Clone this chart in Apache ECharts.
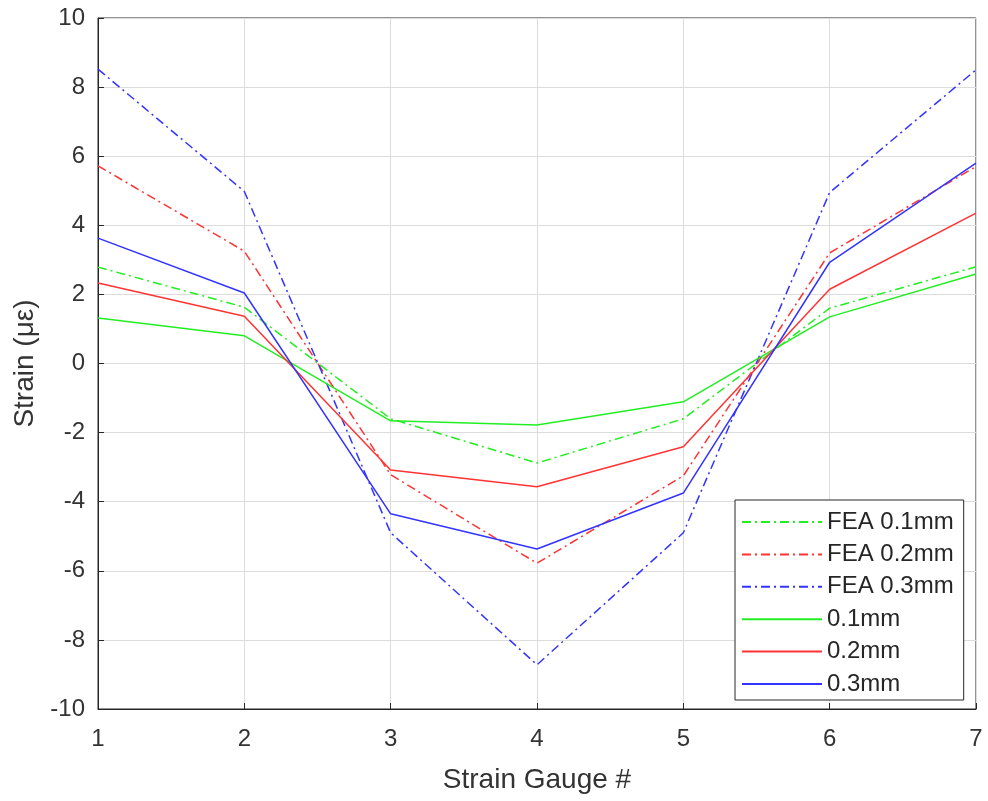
<!DOCTYPE html>
<html><head><meta charset="utf-8">
<script src="https://cdn.jsdelivr.net/npm/echarts@6/dist/echarts.min.js"></script>
<style>html,body{margin:0;padding:0;background:#fff}#c{width:988px;height:801px}</style>
</head><body><div id="c"></div>
<script>
const gauges = [1,2,3,4,5,6,7];
const fea01 = [2.79, 1.63, -1.6, -2.88, -1.6, 1.6, 2.8];
const fea02 = [5.72, 3.25, -3.22, -5.78, -3.25, 3.2, 5.7];
const fea03 = [8.52, 4.98, -4.9, -8.72, -4.9, 4.95, 8.5];
const m01 = [1.32, 0.8, -1.66, -1.78, -1.11, 1.35, 2.59];
const m02 = [2.33, 1.37, -3.08, -3.57, -2.41, 2.15, 4.35];
const m03 = [3.63, 2.04, -4.35, -5.37, -3.75, 2.93, 5.8];
const names = ['FEA 0.1mm','FEA 0.2mm','FEA 0.3mm','0.1mm','0.2mm','0.3mm'];
const green = '#22ee22', red = '#ff3333', blue = '#3333ff';
const dashdot = [9,4,2,4];
function mk(name, vals, color, dashed){
  return {name, type:'line', data: gauges.map((g,i)=>[g, vals[i]]), symbol:'none', showSymbol:false,
    lineStyle:{color, width:1.5, type: dashed ? dashdot : 'solid'}, itemStyle:{color}, z: dashed?2:3, animation:false};
}
const chart = echarts.init(document.getElementById('c'));
chart.setOption({
  animation:false,
  textStyle:{fontFamily:'Liberation Sans, Arial, sans-serif'},
  grid:{left:98, right:12, top:18, bottom:92, show:true, borderColor:'#262626', borderWidth:1},
  xAxis:{type:'value', min:1, max:7, interval:1,
    name:'Strain Gauge #', nameLocation:'middle', nameGap:57, nameTextStyle:{fontSize:28, color:'#333'},
    axisLine:{show:true, onZero:false, lineStyle:{color:'#262626'}},
    axisTick:{show:true, inside:true, length:6, lineStyle:{color:'#262626'}},
    axisLabel:{fontSize:24, color:'#333', margin:18},
    splitLine:{show:true, lineStyle:{color:'#dcdcdc', width:1}}},
  yAxis:{type:'value', min:-10, max:10, interval:2,
    name:'Strain (με)', nameLocation:'middle', nameGap:57, nameTextStyle:{fontSize:28, color:'#333'},
    axisLine:{show:true, onZero:false, lineStyle:{color:'#262626'}},
    axisTick:{show:true, inside:true, length:6, lineStyle:{color:'#262626'}},
    axisLabel:{fontSize:24, color:'#333', margin:13},
    splitLine:{show:true, lineStyle:{color:'#dcdcdc', width:1}}},
  legend:{data:names, orient:'vertical', left:735, top:500, itemWidth:80, itemHeight:14, itemGap:8.4,
    padding:[10,10,4,6], backgroundColor:'#fff', borderColor:'#262626', borderWidth:1, borderRadius:0,
    itemStyle:{opacity:0},
    textStyle:{fontSize:24, color:'#262626'}},
  series:[
    mk(names[0], fea01, green, true),
    mk(names[1], fea02, red, true),
    mk(names[2], fea03, blue, true),
    mk(names[3], m01, green, false),
    mk(names[4], m02, red, false),
    mk(names[5], m03, blue, false)
  ]
});
</script></body></html>
